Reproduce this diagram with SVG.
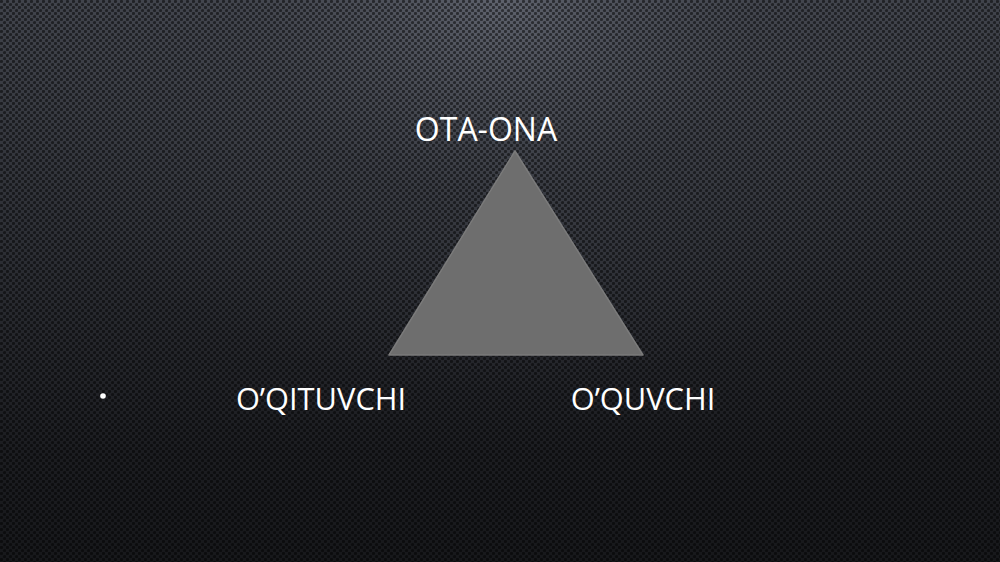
<svg xmlns="http://www.w3.org/2000/svg" width="1000" height="562" viewBox="0 0 1000 562">
  <defs>
    <linearGradient id="bgLin" x1="0" y1="0" x2="0" y2="1">
      <stop offset="0" stop-color="#40434b"/>
      <stop offset="0.45" stop-color="#2c2e34"/>
      <stop offset="0.8" stop-color="#1c1d21"/>
      <stop offset="1" stop-color="#17181b"/>
    </linearGradient>
    <radialGradient id="bgRad" cx="500" cy="0" r="520" gradientUnits="userSpaceOnUse" gradientTransform="translate(500 0) scale(1 0.75) translate(-500 0)">
      <stop offset="0" stop-color="#666a75" stop-opacity="0.8"/>
      <stop offset="0.5" stop-color="#4a4d56" stop-opacity="0.3"/>
      <stop offset="1" stop-color="#4a4d56" stop-opacity="0"/>
    </radialGradient>
    <pattern id="dots" width="6" height="6" patternUnits="userSpaceOnUse">
      <circle cx="1.5" cy="1.5" r="1.6" fill="#000" fill-opacity="0.5"/>
      <circle cx="4.5" cy="4.5" r="1.6" fill="#000" fill-opacity="0.5"/>
    </pattern>
    <style>
      .lbl { font-family: "Open Sans", "Noto Sans", "Liberation Sans", sans-serif; fill: #ffffff; font-size: 32px; }
      .sm { font-size: 30.8px; }
    </style>
  </defs>
  <g id="background">
    <rect width="1000" height="562" fill="url(#bgLin)"/>
    <rect width="1000" height="562" fill="url(#bgRad)"/>
    <rect width="1000" height="562" fill="url(#dots)"/>
  </g>
  <g id="triangle">
    <polygon points="515,151 389,355 643,355" fill="#6e6e6e" stroke="#7b7b7b" stroke-width="1.5" stroke-linejoin="round"/>
  </g>
  <g id="node-ota-ona">
    <text class="lbl" x="486" y="141" text-anchor="middle">OTA-ONA</text>
  </g>
  <g id="node-oqituvchi">
    <circle cx="103" cy="396" r="2.8" fill="#ffffff"/>
    <text class="lbl sm" x="321" y="410" text-anchor="middle">O’QITUVCHI</text>
  </g>
  <g id="node-oquvchi">
    <text class="lbl sm" x="643" y="410" text-anchor="middle">O’QUVCHI</text>
  </g>
  <g id="connectors"></g>
</svg>
